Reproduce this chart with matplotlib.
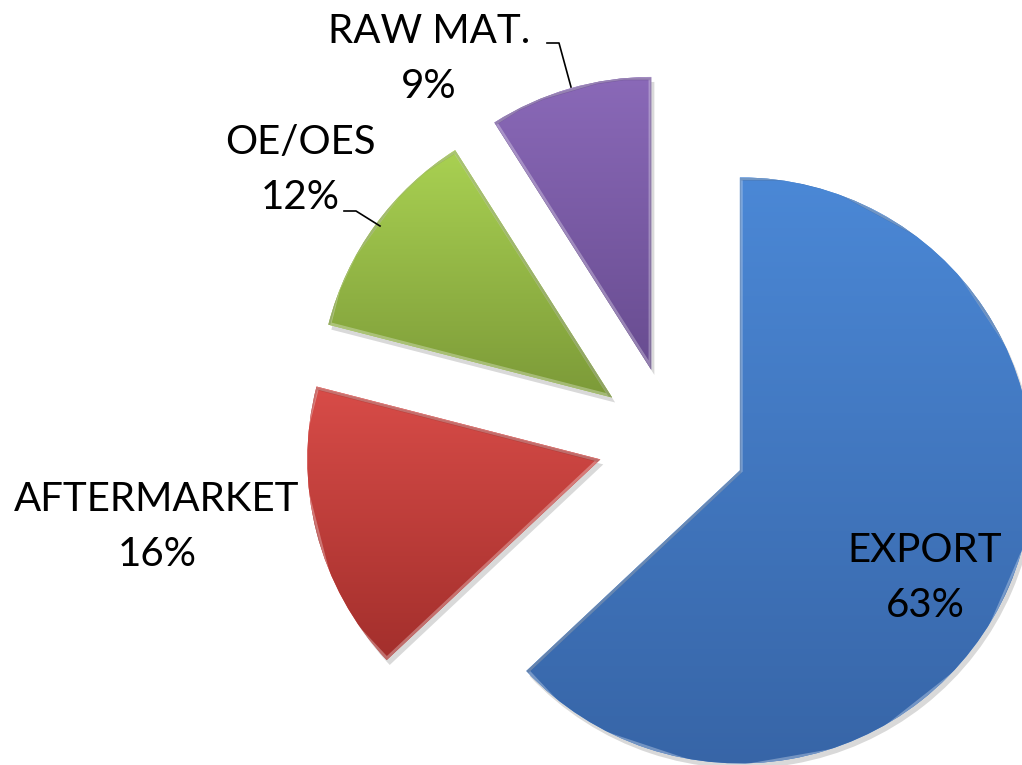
import numpy as np
import matplotlib.pyplot as plt
import matplotlib.colors as mcolors

# data
labels = ["EXPORT", "AFTERMARKET", "OE/OES", "RAW MAT."]
shares = [63, 16, 12, 9]
top_colors = ["#4b88d6", "#d84c48", "#a9d152", "#8a69b8"]
bottom_colors = ["#3765a7", "#a32f2c", "#7c9a38", "#684c90"]

plt.rcParams['font.family'] = ['Lato', 'DejaVu Sans']

fig = plt.figure(figsize=(10.22, 7.65), dpi=100)
ax = fig.add_axes([0, 0, 1, 1])

center = (672, 324)
radius = 293
explode = [74] * len(shares)   # pie offsets are in data units here

# soft shadow underneath
shadow, _ = ax.pie(shares, explode=explode, startangle=90, counterclock=False,
                   center=(center[0] + 3, center[1] - 5), radius=radius,
                   colors=['#000000'] * 4, frame=True,
                   wedgeprops=dict(alpha=0.15, linewidth=0))

wedges, _ = ax.pie(shares, explode=explode, startangle=90, counterclock=False,
                   center=center, radius=radius, colors=top_colors, frame=True,
                   wedgeprops=dict(linewidth=0))
ax.set_xlim(0, 1022)
ax.set_ylim(0, 765)
ax.set_aspect('equal')
ax.axis('off')

# vertical gradient in each slice, clipped to the wedge
grad = np.linspace(0, 1, 256).reshape(-1, 1)
for w, c1, c2 in zip(wedges, top_colors, bottom_colors):
    cmap = mcolors.LinearSegmentedColormap.from_list('g', [c2, c1])
    verts = w.get_path().vertices
    xs, ys = verts[:, 0], verts[:, 1]
    im = ax.imshow(grad, cmap=cmap, origin='lower', aspect='auto',
                   extent=[xs.min(), xs.max(), ys.min(), ys.max()], zorder=2)
    im.set_clip_path(w)
    # bevel: light rim on top, darker rim below
    rim = plt.Polygon(verts, closed=True, fill=False, edgecolor='white',
                      alpha=0.3, linewidth=4, zorder=3)
    ax.add_patch(rim)
    rim.set_clip_path(w)
    dark = plt.Polygon(verts - [0, 2], closed=True, fill=False, edgecolor='black',
                       alpha=0.12, linewidth=2, zorder=3)
    ax.add_patch(dark)
    dark.set_clip_path(w)

ax.set_xlim(0, 1022)
ax.set_ylim(0, 765)

fs = 29
ls = 1.6
ax.text(925, 765 - 578, "EXPORT\n63%", ha='center', va='center', fontsize=fs,
        linespacing=ls, zorder=5)
ax.text(157, 765 - 527, "AFTERMARKET\n16%", ha='center', va='center', fontsize=fs,
        linespacing=ls, zorder=5)
ax.text(300, 765 - 170, "OE/OES\n12%", ha='center', va='center', fontsize=fs,
        linespacing=ls, zorder=5)
ax.text(429, 765 - 59, "RAW MAT.\n9%", ha='center', va='center', fontsize=fs,
        linespacing=ls, zorder=5)

# leader lines
ax.plot([547, 559, 571], [765 - 43, 765 - 43, 765 - 87], color='black', lw=1.2, zorder=5)
ax.plot([344, 356, 380], [765 - 211, 765 - 211, 765 - 226], color='black', lw=1.2, zorder=5)

fig.savefig("out.png", dpi=100)
